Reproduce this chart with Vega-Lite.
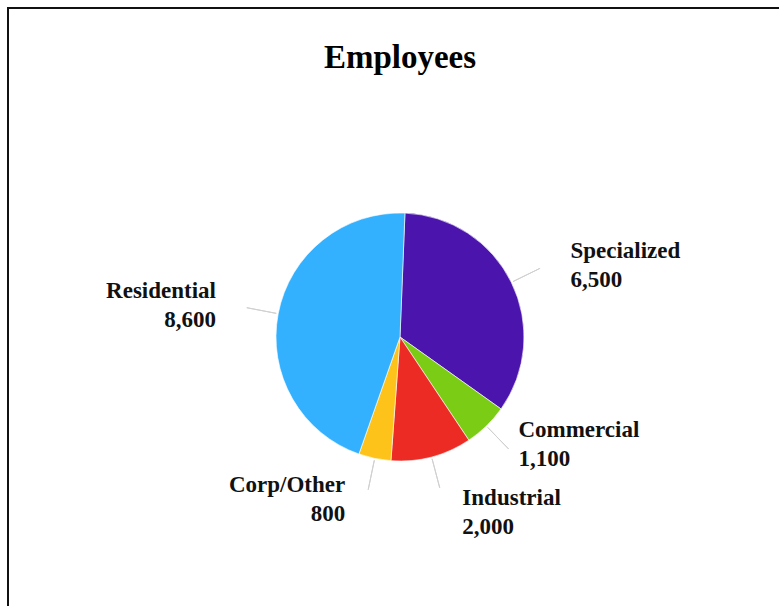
{
  "$schema": "https://vega.github.io/schema/vega-lite/v6.json",
  "autosize": {"type": "none"},
  "padding": {"left": 8, "top": 8, "right": 0, "bottom": 0},
  "width": 784,
  "height": 658,
  "background": "white",
  "config": {"view": {"stroke": null}},
  "title": {"text": "Employees", "font": "Liberation Serif", "fontSize": 33, "fontWeight": "bold", "color": "#000000", "anchor": "middle", "frame": "group", "baseline": "alphabetic", "offset": -62, "dy": 32},
  "data": {"values": [
    {"segment": "Specialized", "employees": 6500, "order": 1},
    {"segment": "Commercial", "employees": 1100, "order": 2},
    {"segment": "Industrial", "employees": 2000, "order": 3},
    {"segment": "Corp/Other", "employees": 800, "order": 4},
    {"segment": "Residential", "employees": 8600, "order": 5}
  ]},
  "transform": [
    {"window": [{"op": "sum", "field": "employees", "as": "cum"}], "sort": [{"field": "order"}], "frame": [null, 0]},
    {"calculate": "datum.cum - datum.employees / 2", "as": "mid"},
    {"calculate": "datum.segment + '\\n' + format(datum.employees, ',')", "as": "label"}
  ],
  "layer": [
    {
      "transform": [{"aggregate": [{"op": "count", "as": "n"}]}],
      "mark": {"type": "rect", "fill": null, "stroke": "#111111", "strokeWidth": 2},
      "encoding": {}
    },
    {
      "mark": {"type": "arc", "radius": 124, "stroke": "white", "strokeWidth": 0.6},
      "encoding": {
        "theta": {"field": "employees", "type": "quantitative", "stack": true, "scale": {"domain": [0, 19000], "range": [0.04, 6.3232]}},
        "order": {"field": "order", "type": "quantitative"},
        "color": {"field": "segment", "type": "nominal", "legend": null, "scale": {"domain": ["Specialized", "Commercial", "Industrial", "Corp/Other", "Residential"], "range": ["#4a14ad", "#7acc14", "#ec2b24", "#fec31b", "#33b1fe"]}}
      }
    },
    {
      "mark": {"type": "arc", "radius": 156, "radius2": 126, "fill": null, "stroke": "#d0d0d0", "strokeWidth": 1},
      "encoding": {
        "theta": {"field": "mid", "type": "quantitative", "stack": null},
        "theta2": {"field": "mid"}
      }
    },
    {
      "transform": [{"filter": "datum.segment == 'Specialized'"}],
      "mark": {"type": "text", "radius": 182, "dx": 7, "dy": -6, "align": "left", "baseline": "middle", "lineBreak": "\n", "lineHeight": 29, "font": "Liberation Serif", "fontSize": 23, "fontWeight": "bold", "color": "#111111"},
      "encoding": {
        "theta": {"field": "mid", "type": "quantitative", "stack": null},
        "text": {"field": "label"}
      }
    },
    {
      "transform": [{"filter": "datum.segment == 'Industrial'"}],
      "mark": {"type": "text", "radius": 182, "dx": 16, "dy": -15, "align": "left", "baseline": "middle", "lineBreak": "\n", "lineHeight": 29, "font": "Liberation Serif", "fontSize": 23, "fontWeight": "bold", "color": "#111111"},
      "encoding": {
        "theta": {"field": "mid", "type": "quantitative", "stack": null},
        "text": {"field": "label"}
      }
    },
    {
      "transform": [{"filter": "datum.segment == 'Commercial'"}],
      "mark": {"type": "text", "radius": 150, "dx": 14, "dy": -15, "align": "left", "baseline": "middle", "lineBreak": "\n", "lineHeight": 29, "font": "Liberation Serif", "fontSize": 23, "fontWeight": "bold", "color": "#111111"},
      "encoding": {
        "theta": {"field": "mid", "type": "quantitative", "stack": null},
        "text": {"field": "label"}
      }
    },
    {
      "transform": [{"filter": "datum.segment == 'Residential' || datum.segment == 'Corp/Other'"}],
      "mark": {"type": "text", "radius": 166, "dx": -21, "dy": -15, "align": "right", "baseline": "middle", "lineBreak": "\n", "lineHeight": 29, "font": "Liberation Serif", "fontSize": 23, "fontWeight": "bold", "color": "#111111"},
      "encoding": {
        "theta": {"field": "mid", "type": "quantitative", "stack": null},
        "text": {"field": "label"}
      }
    }
  ]
}
